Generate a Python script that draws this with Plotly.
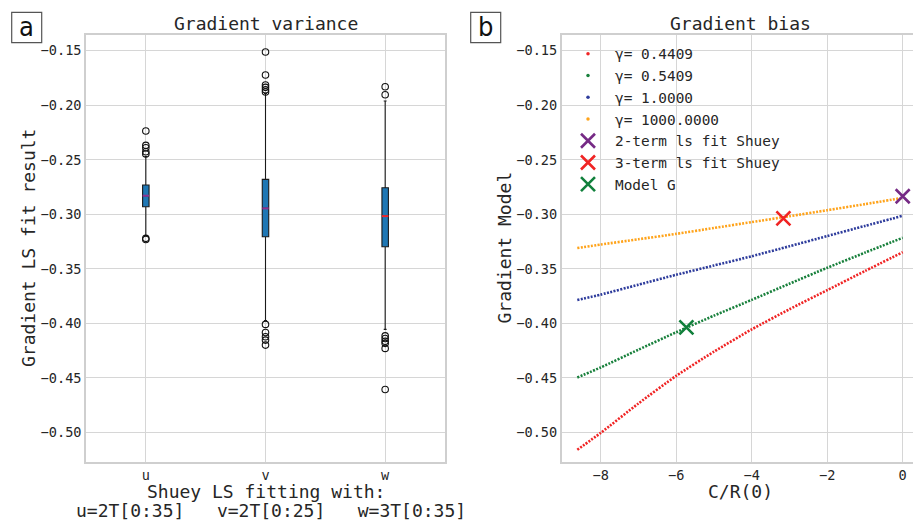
import plotly.graph_objects as go

# ---------------- data: panel a (box statistics) ----------------
cats = ["u", "v", "w"]
pos = [1, 2, 3]
q1 = [-0.2931, -0.3206, -0.3298]
med = [-0.2830, -0.2946, -0.3017]
q3 = [-0.2732, -0.2680, -0.2757]
lowfence = [-0.3195, -0.3975, -0.4056]
upfence = [-0.2470, -0.1891, -0.1961]
out_u = [-0.2237, -0.2368, -0.2390, -0.2427, -0.2448, -0.3221, -0.3232]
out_v = [-0.1512, -0.1723, -0.1815, -0.1836, -0.1858, -0.1878,
         -0.4010, -0.4084, -0.4124, -0.4154, -0.4200]
out_w = [-0.1830, -0.1904, -0.4115, -0.4139, -0.4165, -0.4184, -0.4230, -0.4607]
median_colors = ["#8e3391", "#8e3391", "#f0262b"]

# ---------------- data: panel b (gradient model curves) ----------------
cr = [-8.62, -8.0, -7.0, -6.0, -5.0, -4.0, -3.0, -2.0, -1.0, 0.0]
g_04409 = [-0.5160, -0.5005, -0.4735, -0.4482, -0.4260, -0.4056, -0.3871, -0.3696, -0.3521, -0.3348]
g_05409 = [-0.4497, -0.4405, -0.4242, -0.4082, -0.3930, -0.3785, -0.3637, -0.3491, -0.3352, -0.3216]
g_1 = [-0.3786, -0.3737, -0.3646, -0.3555, -0.3470, -0.3385, -0.3293, -0.3200, -0.3107, -0.3014]
g_1000 = [-0.3310, -0.3278, -0.3229, -0.3180, -0.3126, -0.3072, -0.3018, -0.2963, -0.2907, -0.2850]
gamma_names = ["γ= 0.4409", "γ= 0.5409", "γ= 1.0000", "γ= 1000.0000"]
gamma_colors = ["#f02424", "#18803c", "#2e3c9c", "#ffa31a"]

fit2_x, fit2_y = [0.0], [-0.2835]
fit3_x, fit3_y = [-3.16], [-0.3037]
modelG_x, modelG_y = [-5.73], [-0.4037]

W, H = 913, 521
FONT = "DejaVu Sans Mono"
TXT = "#262626"
GRID = "#d6d6d6"

fig = go.Figure()

box_w = 0.054
outs = [out_u, out_v, out_w]
for i in range(3):
    fig.add_trace(go.Box(
        x=[pos[i]], q1=[q1[i]], median=[med[i]], q3=[q3[i]],
        lowerfence=[lowfence[i]], upperfence=[upfence[i]],
        width=box_w, whiskerwidth=0.45, boxpoints=False,
        fillcolor="#1f77b4", line=dict(color="#1a1a1a", width=1.1),
        showlegend=False, xaxis="x", yaxis="y", hoverinfo="skip"))
    fig.add_trace(go.Scatter(
        x=[pos[i] - box_w / 2, pos[i] + box_w / 2], y=[med[i], med[i]],
        mode="lines", line=dict(color=median_colors[i], width=2),
        showlegend=False, xaxis="x", yaxis="y", hoverinfo="skip"))
    fig.add_trace(go.Scatter(
        x=[pos[i]] * len(outs[i]), y=outs[i], mode="markers",
        marker=dict(symbol="circle-open", size=6.5, color="#111111",
                    line=dict(width=1.1, color="#111111")),
        showlegend=False, xaxis="x", yaxis="y", hoverinfo="skip"))

# panel b curves
curves = [g_04409, g_05409, g_1, g_1000]
for ys, c in zip(curves, gamma_colors):
    fig.add_trace(go.Scatter(
        x=cr, y=ys, mode="lines", line_shape="spline",
        line=dict(color=c, width=2.6, dash="2px,1.4px", smoothing=0.6),
        showlegend=False, xaxis="x2", yaxis="y2", hoverinfo="skip"))
# legend entries for curves (small dots)
for name, c in zip(gamma_names, gamma_colors):
    fig.add_trace(go.Scatter(
        x=[None], y=[None], mode="markers", name=name,
        marker=dict(color=c, size=3.5), xaxis="x2", yaxis="y2"))

for xs, ys, c, name in [(fit2_x, fit2_y, "#762a85", "2-term ls fit Shuey"),
                        (fit3_x, fit3_y, "#f02424", "3-term ls fit Shuey"),
                        (modelG_x, modelG_y, "#11803c", "Model G")]:
    fig.add_trace(go.Scatter(
        x=xs, y=ys, mode="markers", name=name,
        marker=dict(symbol="x-thin", size=14,
                    line=dict(width=2.6, color=c), color=c),
        xaxis="x2", yaxis="y2"))

yrange = [-0.5272, -0.1356]
ytick = [-0.50, -0.45, -0.40, -0.35, -0.30, -0.25, -0.20, -0.15]
axcommon = dict(showgrid=True, gridcolor=GRID, gridwidth=1.3, zeroline=False,
                showline=True, linecolor="#cfcfcf", linewidth=1.5,
                ticks="", tickfont=dict(family=FONT, size=13.6, color=TXT))

fig.update_layout(
    width=W, height=H,
    margin=dict(l=0, r=0, t=0, b=0),
    paper_bgcolor="white", plot_bgcolor="white",
    font=dict(family=FONT, color=TXT),
    xaxis=dict(domain=[86 / W, 445 / W], range=[0.5, 3.5],
               tickvals=pos, ticktext=cats, mirror=True, anchor="y",
               **axcommon),
    yaxis=dict(domain=[1 - 462 / H, 1 - 35 / H], range=yrange,
               tickvals=ytick, tickformat=".2f", mirror=True, anchor="x",
               **axcommon),
    xaxis2=dict(domain=[561.7 / W, 1.0], range=[-9.033, 0.273],
                tickvals=[-8, -6, -4, -2, 0], mirror=True, anchor="y2",
                **axcommon),
    yaxis2=dict(domain=[1 - 462 / H, 1 - 35 / H], range=yrange,
                tickvals=ytick, tickformat=".2f", mirror=False, anchor="x2",
                **axcommon),
    showlegend=True,
    legend=dict(x=561 / W, y=1 - 38 / H, xanchor="left", yanchor="top",
                bgcolor="rgba(255,255,255,0)", borderwidth=0,
                itemwidth=44,
                font=dict(family=FONT, size=14.4, color=TXT)),
)

ann = []
def A(text, x, y, size, angle=0, **kw):
    ann.append(dict(text=text, x=x / W, y=1 - y / H, xref="paper", yref="paper",
                    showarrow=False, textangle=angle, xanchor="center",
                    yanchor="middle", font=dict(family=FONT, size=size, color=TXT), **kw))

A("Gradient variance", 265.5, 23.5, 18)
A("Gradient bias", 740, 23.5, 18)
A("Shuey LS fitting with:", 265.5, 491, 18)
A("u=2T[0:35]   v=2T[0:25]   w=3T[0:35]", 270.5, 510.5, 18)
A("C/R(0)", 740, 491, 18)
A("Gradient LS fit result", 28, 248, 18, angle=-90)
A("Gradient Model", 503.5, 248, 18, angle=-90)

for lab, cx in [("a", 26.7), ("b", 485.7)]:
    ann.append(dict(text=lab, x=cx / W, y=1 - 27 / H, xref="paper", yref="paper",
                    showarrow=False, xanchor="center", yanchor="middle",
                    font=dict(family="Liberation Sans Narrow, DejaVu Sans Condensed, Arial Narrow",
                              size=27, color="#111111")))
fig.update_layout(annotations=ann)

shapes = []
for x0 in [11.7, 470.7]:
    shapes.append(dict(type="rect", xref="paper", yref="paper",
                       x0=x0 / W, x1=(x0 + 30) / W, y0=1 - 42.7 / H, y1=1 - 12.3 / H,
                       line=dict(color="#555555", width=1.2), fillcolor="rgba(0,0,0,0)"))
fig.update_layout(shapes=shapes)

fig.write_html("out.html")
